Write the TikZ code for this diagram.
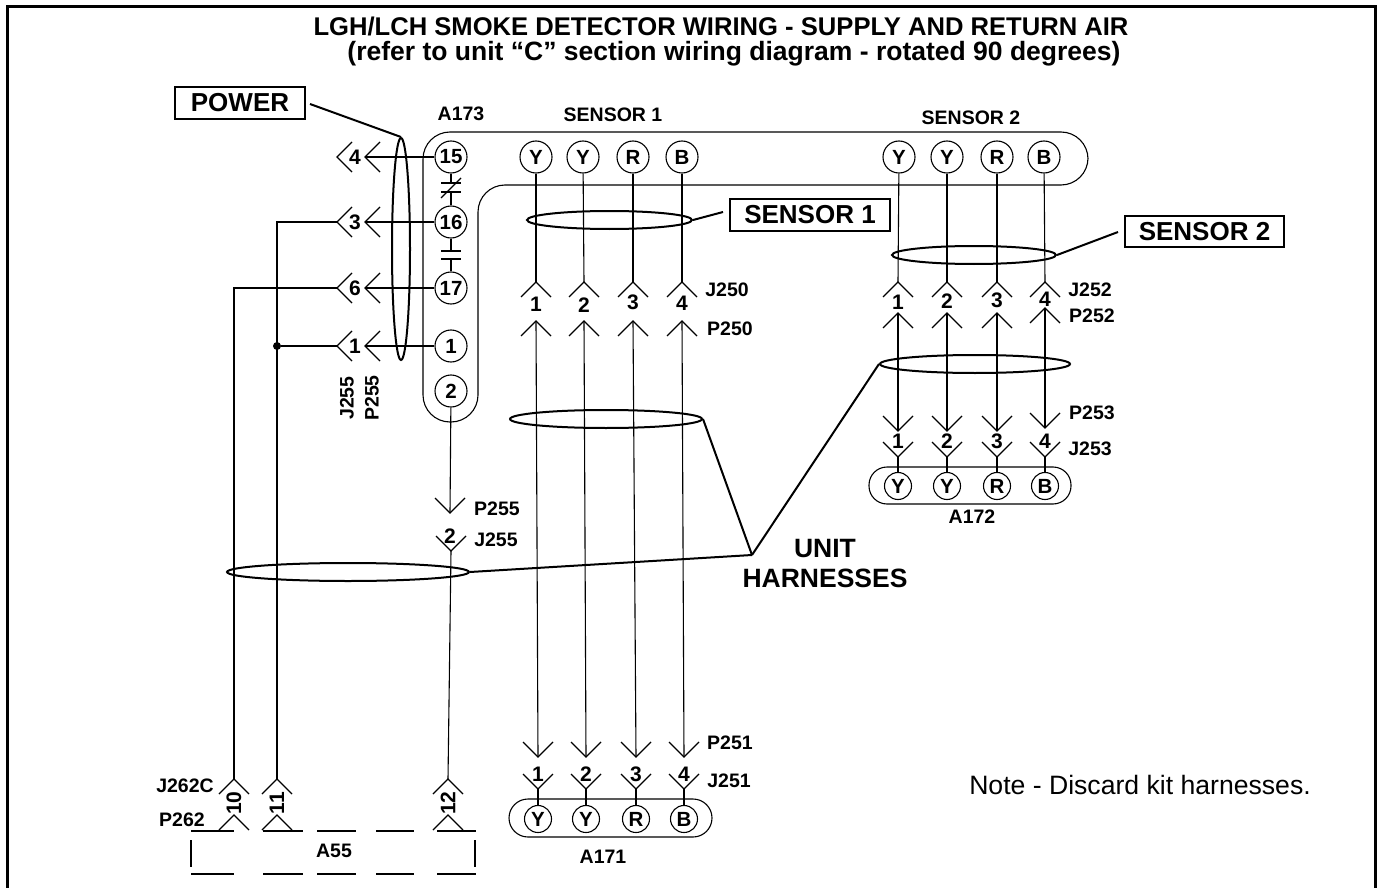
\documentclass[tikz,border=0pt]{standalone}
\usepackage{fontspec}
\setmainfont{Liberation Sans}
\usetikzlibrary{calc,shapes.geometric}

\tikzset{
  wire/.style={line width=1.1pt},
  lead/.style={line width=2pt},
  pin/.style={draw,circle,line width=1.1pt,minimum size=32pt,inner sep=0pt,font=\fontsize{20.5}{22}\selectfont\bfseries},
  smallpin/.style={pin,minimum size=27pt},
  tag/.style={font=\fontsize{19.5}{22}\selectfont\bfseries,inner sep=0pt},
  digit/.style={font=\fontsize{21}{22}\selectfont\bfseries,inner sep=0pt},
  callout/.style={draw,line width=1.1pt,font=\fontsize{26}{28}\selectfont\bfseries,inner sep=0pt},
  ring/.style={draw,ellipse,lead,inner sep=0pt},
  chevup/.pic={\draw[wire] (-15,15) -- (0,0) -- (15,15);},
  chevdown/.pic={\draw[wire] (-15,-15) -- (0,0) -- (15,-15);},
  chevleft/.pic={\draw[wire] (15,-15) -- (0,0) -- (15,15);}
}

\begin{document}
\begin{tikzpicture}[x=1pt,y=-1pt]
\useasboundingbox (0,0) rectangle (1377,888);
% the frame and the title
\draw[line width=3pt] (7,888) -- (7,7) -- (1375,7) -- (1375,888);
\node[inner sep=0pt,font=\fontsize{25.6}{28}\selectfont\bfseries] (title1) at (721,26) {LGH/LCH SMOKE DETECTOR WIRING - SUPPLY AND RETURN AIR};
\node[inner sep=0pt,font=\fontsize{26.5}{28}\selectfont\bfseries] (title2) at (734,54) {(refer to unit “C” section wiring diagram - rotated 90 degrees)};

% board A173
\draw[wire,rounded corners=27pt] (700,132) -- (1088,132) -- (1088,185) -- (478,185) -- (478,422) -- (423,422) -- (423,132) -- cycle;
\node[tag] (a173) at (461,114) {A173};
\node[tag] (s1tag) at (613,115) {SENSOR 1};
\node[tag] (s2tag) at (971,118) {SENSOR 2};
\foreach \n/\y in {15/157,16/222,17/288,1/346,2/391}
  \node[pin,fill=white] (p\n) at (451,\y) {\n};
\foreach \n/\x/\t in {a/536/Y,b/583/Y,c/633/R,d/682/B}
  \node[pin] (s\n) at (\x,157) {\t};
\foreach \n/\x/\t in {a/899/Y,b/947/Y,c/997/R,d/1044/B}
  \node[pin] (r\n) at (\x,157) {\t};

% the links between 15, 16 and 17
\coordinate (brA) at (451,183);
\coordinate (brB) at (451,192);
\coordinate (brC) at (451,251);
\coordinate (brD) at (451,259);
\draw[wire] (p15) -- (brA);
\draw[wire] (brB) -- (p16);
\draw[wire] (p16) -- (brC);
\draw[wire] (brD) -- (p17);
\foreach \c in {brA,brB,brC,brD}
  \draw[wire] ($(\c)+(-10,0)$) -- ($(\c)+(10,0)$);
\draw[wire] (441,198) -- (461,178);

% left side connector P255 / J255
\foreach \n/\y/\d in {15/157/4,16/222/3,17/288/6,1/346/1} {
  \coordinate (pl\n) at (365,\y);
  \coordinate (jl\n) at (337,\y);
  \pic at (pl\n) {chevleft};
  \pic at (jl\n) {chevleft};
  \node[digit] (dl\n) at (355,\y) {\d};
  \draw[wire] (p\n) -- (pl\n);
}
\node[tag,rotate=90] (j255v) at (347,398) {J255};
\node[tag,rotate=90] (p255v) at (372,398) {P255};

% A55 connector
\foreach \n/\x/\d in {a/234/10,b/277/11,c/448/12} {
  \coordinate (ja\n) at (\x,779);
  \coordinate (pa\n) at (\x,815);
  \pic at (ja\n) {chevup};
  \pic at (pa\n) {chevup};
  \node[digit,rotate=90] (da\n) at (\x,803) {\d};
}
\node[circle,fill=black,inner sep=0pt,minimum size=8pt] (dot) at (277,346) {};
\draw[wire] (jl16) -| (jab);
\draw[wire] (jl17) -| (jaa);
\draw[wire] (jl1) -- (dot);
\node[tag] (j262) at (185,786) {J262C};
\node[tag] (p262) at (182,820) {P262};
\foreach \y in {831,874}
  \foreach \a/\b in {191/234,263/303,317/356,376/414,437/476}
    \draw[wire] (\a,\y) -- (\b,\y);
\draw[wire] (191,840) -- (191,867);
\draw[wire] (475,840) -- (475,867);
\node[tag] (a55) at (334,851) {A55};

% pin 2 down to A55
\coordinate (pb) at (450,513);
\coordinate (jb) at (451,551);
\pic at (pb) {chevdown};
\pic at (jb) {chevdown};
\node[digit] (db) at (450,536) {2};
\draw[wire] (p2) -- (pb);
\draw[wire] (jb) -- (jac);
\node[tag] (p255) at (497,509) {P255};
\node[tag] (j255) at (496,540) {J255};

% sensor 1 harness
\foreach \n/\x/\bx/\t/\d/\dy in {a/536/538/Y/1/304,b/584/586/Y/2/305,c/633/636/R/3/302,d/682/684/B/4/303} {
  \coordinate (ju\n) at (\x,282);
  \coordinate (pu\n) at (\x,321);
  \coordinate (pv\n) at (\bx,757);
  \coordinate (jv\n) at (\bx,789);
  \pic at (ju\n) {chevup};
  \pic at (pu\n) {chevup};
  \pic at (pv\n) {chevdown};
  \pic at (jv\n) {chevdown};
  \node[digit] (du\n) at (\x,\dy) {\d};
  \node[digit] (dv\n) at (\bx,774) {\d};
  \node[smallpin] (t\n) at (\bx,819) {\t};
  \draw[wire] (s\n) -- (ju\n);
  \draw[wire] (pu\n) -- (pv\n);
  \draw[wire] (jv\n) -- (t\n);
}
\draw[wire,rounded corners=19pt] (509,799) rectangle (712,837);
\node[tag] (a171) at (603,857) {A171};
\node[tag] (j250) at (727,290) {J250};
\node[tag] (p250) at (730,329) {P250};
\node[tag] (p251) at (730,743) {P251};
\node[tag] (j251) at (729,781) {J251};

% sensor 2 harness
\foreach \n/\x/\t/\d/\ptip/\qtip/\dy in {a/898/Y/1/313/431/302,b/947/Y/2/313/431/301,c/997/R/3/313/431/300,d/1045/B/4/308/428/299} {
  \coordinate (jw\n) at (\x,282);
  \coordinate (pw\n) at (\x,\ptip);
  \coordinate (px\n) at (\x,\qtip);
  \coordinate (jx\n) at (\x,457);
  \pic at (jw\n) {chevup};
  \pic at (pw\n) {chevup};
  \pic at (px\n) {chevdown};
  \pic at (jx\n) {chevdown};
  \node[digit] (dw\n) at (\x,\dy) {\d};
  \node[digit] (dx\n) at (\x,441) {\d};
  \node[smallpin] (u\n) at (\x,486) {\t};
  \draw[wire] (r\n) -- (jw\n);
  \draw[wire] (pw\n) -- (px\n);
  \draw[wire] (jx\n) -- (u\n);
}
\draw[wire,rounded corners=18pt] (869,467) rectangle (1071,504);
\node[tag] (a172) at (972,517) {A172};
\node[tag] (j252) at (1090,290) {J252};
\node[tag] (p252) at (1092,316) {P252};
\node[tag] (p253) at (1092,413) {P253};
\node[tag] (j253) at (1090,449) {J253};

% the bundle rings and their callouts
\node[callout,minimum width=130pt,minimum height=32pt] (power) at (240,103) {POWER};
\node[callout,minimum width=160pt,minimum height=32pt] (sensorA) at (810,215) {SENSOR 1};
\node[callout,minimum width=159pt,minimum height=31pt] (sensorB) at (1204.5,231.5) {SENSOR 2};
\node[ring,minimum width=18pt,minimum height=222pt] (ringP) at (401,249) {};
\node[ring,minimum width=165pt,minimum height=18pt] (ringA) at (609.5,220) {};
\node[ring,minimum width=164pt,minimum height=18pt] (ringB) at (974,255) {};
\node[ring,minimum width=190pt,minimum height=18pt] (ringC) at (975,364) {};
\node[ring,minimum width=192pt,minimum height=18pt] (ringD) at (606,419) {};
\node[ring,minimum width=242pt,minimum height=18pt] (ringE) at (348,572) {};
\coordinate (hub) at (752,555);
\draw[lead] (ringP.north) -- (310,104);
\draw[lead] (ringA.east) -- (723,212);
\draw[lead] (ringB.east) -- (1118,232);
\draw[lead] (ringC.west) -- (hub);
\draw[lead] (ringD.east) -- (hub);
\draw[lead] (ringE.east) -- (hub);
\node[inner sep=0pt,font=\fontsize{26.5}{30}\selectfont\bfseries,align=center] (harness) at (825,564) {UNIT\\HARNESSES};
\node[inner sep=0pt,font=\fontsize{26.6}{28}\selectfont] (note) at (1140,785) {Note - Discard kit harnesses.};
\end{tikzpicture}
\end{document}
